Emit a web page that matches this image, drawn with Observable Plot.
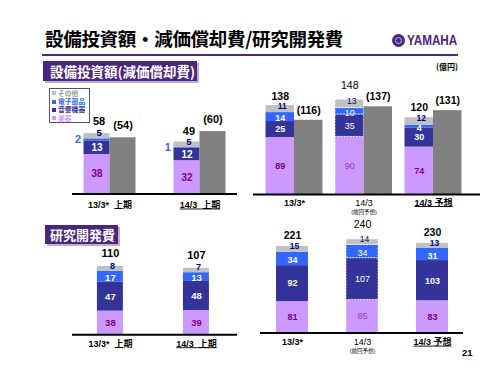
<!DOCTYPE html>
<html><head><meta charset="utf-8">
<script src="https://cdn.jsdelivr.net/npm/d3@7"></script>
<script src="https://cdn.jsdelivr.net/npm/@observablehq/plot@0.6"></script>
<style>
body{margin:0;background:#fff;}
#page{position:relative;width:500px;height:375px;overflow:hidden;background:#fff;font-family:"Noto Sans CJK JP","Liberation Sans",sans-serif;}
.abs{position:absolute;white-space:nowrap;}
.hdr{position:absolute;background:#4b2680;color:#fff;font-weight:700;box-shadow:2px 2px 0 #b8b0c8;}
</style></head>
<body><div id="page"></div>
<script>
// ---- data ----
const parts = ["楽器", "音響機器", "電子部品", "その他"];
const partColors = ["#cc99ff", "#333399", "#3366ff", "#c0c0c0"];
const labelColors = ["#800080", "#ffffff", "#ffffff", "#000080"];
const prevLabelColors = ["#9933cc", "#ffffff", "#ffffff", "#000080"];
const deprColor = "#808080";

const capexHalfPeriods = ["13/3*  上期", "14/3  上期"];
const capexHalfInstruments = [38, 32];
const capexHalfAudio = [13, 12];
const capexHalfElectronic = [2, 1];
const capexHalfOther = [5, 5];
const capexHalfTotals = [58, 49];
const deprHalf = [54, 60];

const capexYearPeriods = ["13/3*", "14/3", "14/3 予想"];
const capexYearNotes = ["", "(前回予想)", ""];
const capexYearInstruments = [89, 90, 74];
const capexYearAudio = [25, 35, 30];
const capexYearElectronic = [14, 10, 4];
const capexYearOther = [11, 13, 12];
const capexYearTotals = [138, 148, 120];
const deprYear = [116, 137, 131];

const rdHalfPeriods = ["13/3*  上期", "14/3  上期"];
const rdHalfInstruments = [38, 39];
const rdHalfAudio = [47, 48];
const rdHalfElectronic = [17, 13];
const rdHalfOther = [8, 7];
const rdHalfTotals = [110, 107];

const rdYearPeriods = ["13/3*", "14/3", "14/3 予想"];
const rdYearNotes = ["", "(前回予想)", ""];
const rdYearInstruments = [81, 85, 83];
const rdYearAudio = [92, 107, 103];
const rdYearElectronic = [34, 34, 31];
const rdYearOther = [15, 14, 13];
const rdYearTotals = [221, 240, 230];

const titleText = "設備投資額・減価償却費/研究開発費";
const capexHeader = "設備投資額(減価償却費)";
const rdHeader = "研究開発費";
const unitText = "(億円)";
const pageNo = "21";

// ---- page chrome ----
const page = document.getElementById("page");
function addDiv(css, text, cls) {
  const d = document.createElement("div");
  d.className = cls || "abs";
  d.style.cssText += css;
  if (text != null) d.textContent = text;
  page.appendChild(d);
  return d;
}
addDiv("left:45px;top:28px;height:21px;line-height:21px;font-size:18.5px;font-weight:700;color:#000;letter-spacing:-0.3px;", titleText);
addDiv("left:42px;top:53.5px;width:416px;height:2px;background:#4b2680;");
addDiv("left:392px;top:33.5px;width:13px;height:13px;border-radius:50%;background:#4b2680;");
addDiv("left:395px;top:36.5px;width:5px;height:5px;border-radius:50%;border:1.5px solid #c8b8e0;");
addDiv("left:407px;top:31px;height:18px;line-height:18px;font-size:15px;font-weight:700;color:#4b2680;font-family:'Liberation Sans',sans-serif;transform:scaleX(0.78);transform-origin:0 50%;", "YAMAHA");
addDiv("left:436px;top:61px;height:12px;line-height:12px;font-size:8px;font-weight:700;color:#000;", unitText);
addDiv("left:43px;top:61px;width:154px;height:20px;line-height:20px;font-size:13.5px;padding-left:7px;box-sizing:border-box;", capexHeader, "hdr");
addDiv("left:45px;top:225px;width:73px;height:19px;line-height:19px;font-size:13px;padding-left:5px;box-sizing:border-box;", rdHeader, "hdr");
addDiv("left:462px;top:346px;height:13px;line-height:13px;font-size:9.5px;font-weight:700;color:#000;font-family:'Liberation Sans',sans-serif;", pageNo);

// legend
const leg = addDiv("left:49px;top:88px;width:41px;height:35px;border:1px solid #555;box-sizing:border-box;background:#fff;z-index:5;");
const legendTextColors = ["#cc99ff", "#333399", "#3366ff", "#999999"];
parts.slice().reverse().forEach((p, r) => {
  const j = parts.length - 1 - r;
  const row = document.createElement("div");
  row.style.cssText = `position:absolute;left:2px;top:${0.8 + r * 8.3}px;height:8px;line-height:8px;font-size:6.8px;font-weight:700;white-space:nowrap;font-family:'Liberation Sans','Noto Sans CJK JP',sans-serif;color:${legendTextColors[j]};`;
  row.innerHTML = `<span style="display:inline-block;width:4px;height:4px;background:${partColors[j]};margin-right:2px;vertical-align:0.5px"></span>${p}`;
  leg.appendChild(row);
});

// ---- panels ----
function drawPanel(cfg) {
  const {periods, notes = [], series, totals, depr, left, right, baseline, k, ymax,
    pIn, pOut, align, outsideParts = [], prevIndex = -1, totalDy, totalDx = 0, labelDy,
    underline = [], segSize, totalSize} = cfg;
  const band = d3.scaleBand().domain(periods).range([left, right])
    .paddingInner(pIn).paddingOuter(pOut).align(align);
  const bw = band.bandwidth();
  const hasDepr = !!depr;
  const barW = hasDepr ? bw / 2 : bw;
  const off = hasDepr ? -bw / 4 : 0;
  const rows = [];
  periods.forEach((p, i) => parts.forEach((part, j) =>
    rows.push({period: p, part, j, value: series[j][i], prev: i === prevIndex})));
  const normalRows = rows.filter(d => !d.prev), prevRows = rows.filter(d => d.prev);
  const mL = 14, mR = 14, mT = 30, mB = 28;
  const plotH = ymax * k;
  const width = right - left + mL + mR, height = mT + plotH + mB;
  const marks = [];
  marks.push(Plot.barY(normalRows, {x: "period", y: "value", fill: "part", insetRight: hasDepr ? bw / 2 : 0}));
  if (prevRows.length) {
    marks.push(Plot.barY(prevRows, {x: "period", y: "value", fill: "part", insetRight: hasDepr ? bw / 2 : 0,
      stroke: "#ffffff", strokeOpacity: 0.9, strokeWidth: 1, strokeDasharray: "1.5,1.5"}));
  }
  if (hasDepr) {
    marks.push(Plot.barY(periods, {x: d => d, y: (d, i) => depr[i], fill: deprColor, insetLeft: bw / 2}));
    marks.push(Plot.text(periods, {x: d => d, y: (d, i) => depr[i], text: (d, i) => `(${depr[i]})`,
      dx: bw / 4, dy: -totalDy, fontSize: totalSize, fontWeight: "bold", fill: "#000"}));
  }
  for (const [set, weight] of [[normalRows, "bold"], [prevRows, "normal"]]) {
    if (!set.length) continue;
    parts.forEach((part, j) => {
      const outside = outsideParts.includes(part);
      const isOther = part === "その他";
      marks.push(Plot.text(set, Plot.stackY({x: "period", y: "value",
        text: d => d.part === part ? String(d.value) : null,
        fill: outside ? partColors[j] : (weight === "normal" ? prevLabelColors[j] : labelColors[j]),
        dx: outside ? off - barW / 2 - 3 : (isOther ? off + 2 : off),
        dy: isOther ? -3 : (part === "電子部品" && !outside ? 1.5 : 0),
        textAnchor: outside ? "end" : "middle",
        fontWeight: weight, fontSize: outside ? segSize + 1 : (isOther ? segSize - 0.5 : segSize)})));
    });
  }
  marks.push(Plot.text(periods, {x: d => d, y: (d, i) => totals[i], text: (d, i) => String(totals[i]),
    filter: (d, i) => i !== prevIndex, dx: off + totalDx, dy: -totalDy, fontSize: totalSize, fontWeight: "bold", fill: "#000"}));
  if (prevIndex >= 0) {
    marks.push(Plot.text(periods, {x: d => d, y: (d, i) => totals[i], text: (d, i) => String(totals[i]),
      filter: (d, i) => i === prevIndex, dx: off + totalDx, dy: -totalDy - 4, fontSize: totalSize, fontWeight: "normal", fill: "#000"}));
  }
  marks.push(Plot.ruleY([0], {stroke: "#000", strokeWidth: 2}));
  // x labels
  marks.push(Plot.text(periods, {x: d => d, text: d => d, frameAnchor: "bottom", dy: labelDy,
    filter: (d, i) => i !== prevIndex, fontSize: 9, fontWeight: "bold", fill: "#000"}));
  if (prevIndex >= 0) {
    marks.push(Plot.text(periods, {x: d => d, text: d => d, frameAnchor: "bottom", dy: labelDy,
      filter: (d, i) => i === prevIndex, fontSize: 9, fontWeight: "normal", fill: "#000"}));
    marks.push(Plot.text(periods, {x: d => d, text: (d, i) => notes[i] || null, frameAnchor: "bottom", dy: labelDy + 8,
      fontSize: 5.5, fontWeight: "normal", fill: "#000"}));
  }
  const svg = Plot.plot({
    width, height, marginLeft: mL, marginRight: mR, marginTop: mT, marginBottom: mB,
    x: {domain: periods, paddingInner: pIn, paddingOuter: pOut, align, round: false, axis: null},
    y: {domain: [0, ymax], axis: null},
    color: {domain: parts, range: partColors},
    style: {fontFamily: '"Liberation Sans", "Noto Sans CJK JP", sans-serif', background: "transparent", overflow: "visible"},
    marks
  });
  svg.style.position = "absolute";
  svg.style.left = (left - mL) + "px";
  svg.style.top = (baseline - plotH - mT) + "px";
  svg.style.maxWidth = "none";
  page.appendChild(svg);
  // underline the highlighted period labels
  const targets = underline.map(i => periods[i]);
  d3.select(svg).selectAll("text").filter(function() {
    return targets.includes(this.textContent) && +this.getAttribute("font-size") === 9 || (targets.includes(this.textContent) && this.closest("g") && this.closest("g").getAttribute("font-size") === "9");
  }).each(function() {
    const b = this.getBBox();
    const t = this.getAttribute("transform");
    const line = d3.select(this.parentNode).append("line")
      .attr("x1", b.x).attr("x2", b.x + b.width)
      .attr("y1", b.y + b.height - 1).attr("y2", b.y + b.height - 1)
      .attr("stroke", "#000").attr("stroke-width", 0.9);
    if (t) line.attr("transform", t);
  });
}

drawPanel({periods: capexHalfPeriods, series: [capexHalfInstruments, capexHalfAudio, capexHalfElectronic, capexHalfOther],
  totals: capexHalfTotals, depr: deprHalf, left: 72, right: 237, baseline: 193, k: 1.04, ymax: 62,
  pIn: 0.422, pOut: 0.128, align: 0.5, outsideParts: ["電子部品"], totalDy: 12, totalDx: 2, labelDy: 14, underline: [1],
  segSize: 10, totalSize: 11});
drawPanel({periods: capexYearPeriods, notes: capexYearNotes,
  series: [capexYearInstruments, capexYearAudio, capexYearElectronic, capexYearOther],
  totals: capexYearTotals, depr: deprYear, left: 253, right: 480, baseline: 194, k: 0.64, ymax: 150,
  pIn: 0.18, pOut: 0.223, align: 0.403, prevIndex: 1, totalDy: 10, labelDy: 11, underline: [2],
  segSize: 9, totalSize: 10.5});
drawPanel({periods: rdHalfPeriods, series: [rdHalfInstruments, rdHalfAudio, rdHalfElectronic, rdHalfOther],
  totals: rdHalfTotals, left: 72, right: 237, baseline: 334, k: 0.62, ymax: 110,
  pIn: 0.698, pOut: 0.308, align: 0.47, totalDy: 13, labelDy: 12, underline: [1],
  segSize: 9.5, totalSize: 11});
drawPanel({periods: rdYearPeriods, notes: rdYearNotes,
  series: [rdYearInstruments, rdYearAudio, rdYearElectronic, rdYearOther],
  totals: rdYearTotals, left: 260, right: 463, baseline: 333, k: 0.39, ymax: 240,
  pIn: 0.543, pOut: 0.2215, align: 0.516, prevIndex: 1, totalDy: 11, labelDy: 12, underline: [2],
  segSize: 9, totalSize: 10.5});
</script></body></html>
